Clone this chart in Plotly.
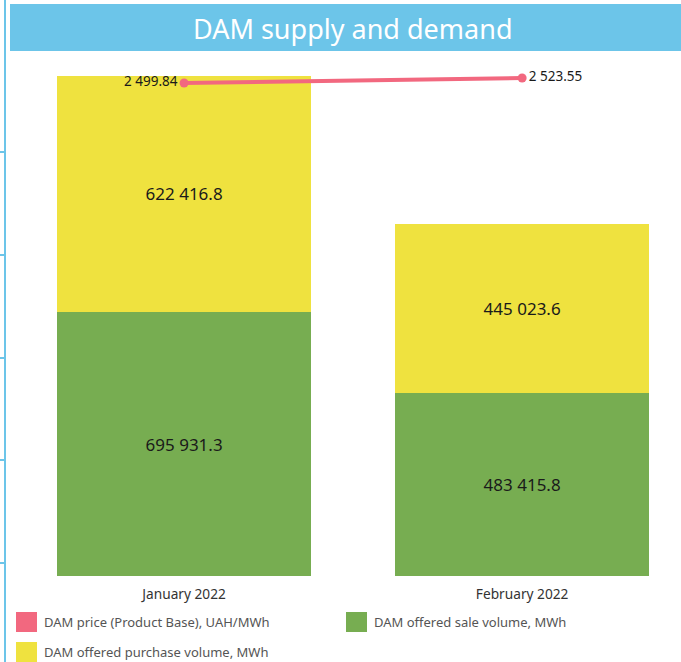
import plotly.graph_objects as go

months = ["January 2022", "February 2022"]
sale_volume = [695931.3, 483415.8]
purchase_volume = [622416.8, 445023.6]
dam_price = [2499.84, 2523.55]

PINK = "#F2687F"
YELLOW = "#EFE23F"
GREEN = "#77AD51"
BLUE = "#6CC5E9"

# plot area in pixels: x 10..681, y 60..576
PL, PW, PT, PH = 10, 671, 60, 516


def px(x):
    return (x - PL) / PW


def py(y):
    return (PT + PH - y) / PH


fig = go.Figure()

fig.add_trace(go.Bar(
    x=months, y=sale_volume, name="DAM offered sale volume, MWh",
    marker=dict(color=GREEN, line=dict(width=0)), width=0.75,
    texttemplate="%{y:,.1f}", textposition="inside", insidetextanchor="middle",
    textfont=dict(size=17, color="#1a1a1a"),
))
fig.add_trace(go.Bar(
    x=months, y=purchase_volume, name="DAM offered purchase volume, MWh",
    marker=dict(color=YELLOW, line=dict(width=0)), width=0.75,
    texttemplate="%{y:,.1f}", textposition="inside", insidetextanchor="middle",
    textfont=dict(size=17, color="#1a1a1a"),
))
fig.add_trace(go.Scatter(
    x=months, y=dam_price, name="DAM price (Product Base), UAH/MWh",
    yaxis="y2", mode="lines+markers+text",
    line=dict(color=PINK, width=4), marker=dict(color=PINK, size=9),
    texttemplate="%{y:,.2f}", textposition=["middle left", "middle right"],
    textfont=dict(size=13.5, color="#1a1a1a"), cliponaxis=False,
))

fig.update_layout(
    width=681, height=662,
    barmode="stack",
    separators=". ",
    showlegend=False,
    paper_bgcolor="white", plot_bgcolor="white",
    font=dict(family="Noto Sans, sans-serif", color="#333"),
    margin=dict(l=PL, r=0, t=PT, b=662 - PT - PH),
    xaxis=dict(type="category", range=[-0.515, 1.47], showline=False,
               showgrid=False, ticks="", ticklabelstandoff=8,
               tickfont=dict(size=13.7, color="#333")),
    yaxis=dict(range=[0, 1360400], visible=False),
    yaxis2=dict(range=[162, 2609], overlaying="y", visible=False),
)

# title banner
fig.add_shape(type="rect", xref="paper", yref="paper",
              x0=0, x1=1, y0=py(51), y1=py(4),
              fillcolor=BLUE, line=dict(width=0))
fig.add_annotation(text="DAM supply and demand", xref="paper", yref="paper",
                   x=px(353), y=py(29), xanchor="center", yanchor="middle",
                   showarrow=False, font=dict(size=27, color="white"))

# left panel edge
fig.add_shape(type="line", xref="paper", yref="paper",
              x0=px(5), x1=px(5), y0=py(662), y1=py(0),
              line=dict(color=BLUE, width=2))
for ty in [152, 255, 358, 460, 563]:
    fig.add_shape(type="line", xref="paper", yref="paper",
                  x0=px(0), x1=px(5), y0=py(ty), y1=py(ty),
                  line=dict(color=BLUE, width=2))

# legend
legend_items = [
    ("DAM price (Product Base), UAH/MWh", PINK, 16, 622),
    ("DAM offered sale volume, MWh", GREEN, 346, 622),
    ("DAM offered purchase volume, MWh", YELLOW, 16, 652),
]
for label, color, lx, ly in legend_items:
    fig.add_shape(type="rect", xref="paper", yref="paper",
                  x0=px(lx), x1=px(lx + 21),
                  y0=py(ly + 10), y1=py(ly - 10),
                  fillcolor=color, line=dict(width=0))
    fig.add_annotation(text=label, xref="paper", yref="paper",
                       x=px(lx + 26), y=py(ly),
                       xanchor="left", yanchor="middle", showarrow=False,
                       font=dict(size=13, color="#555"))

fig.write_html("out.html", config={"displayModeBar": False},
               post_script="document.body.style.margin='0';")
